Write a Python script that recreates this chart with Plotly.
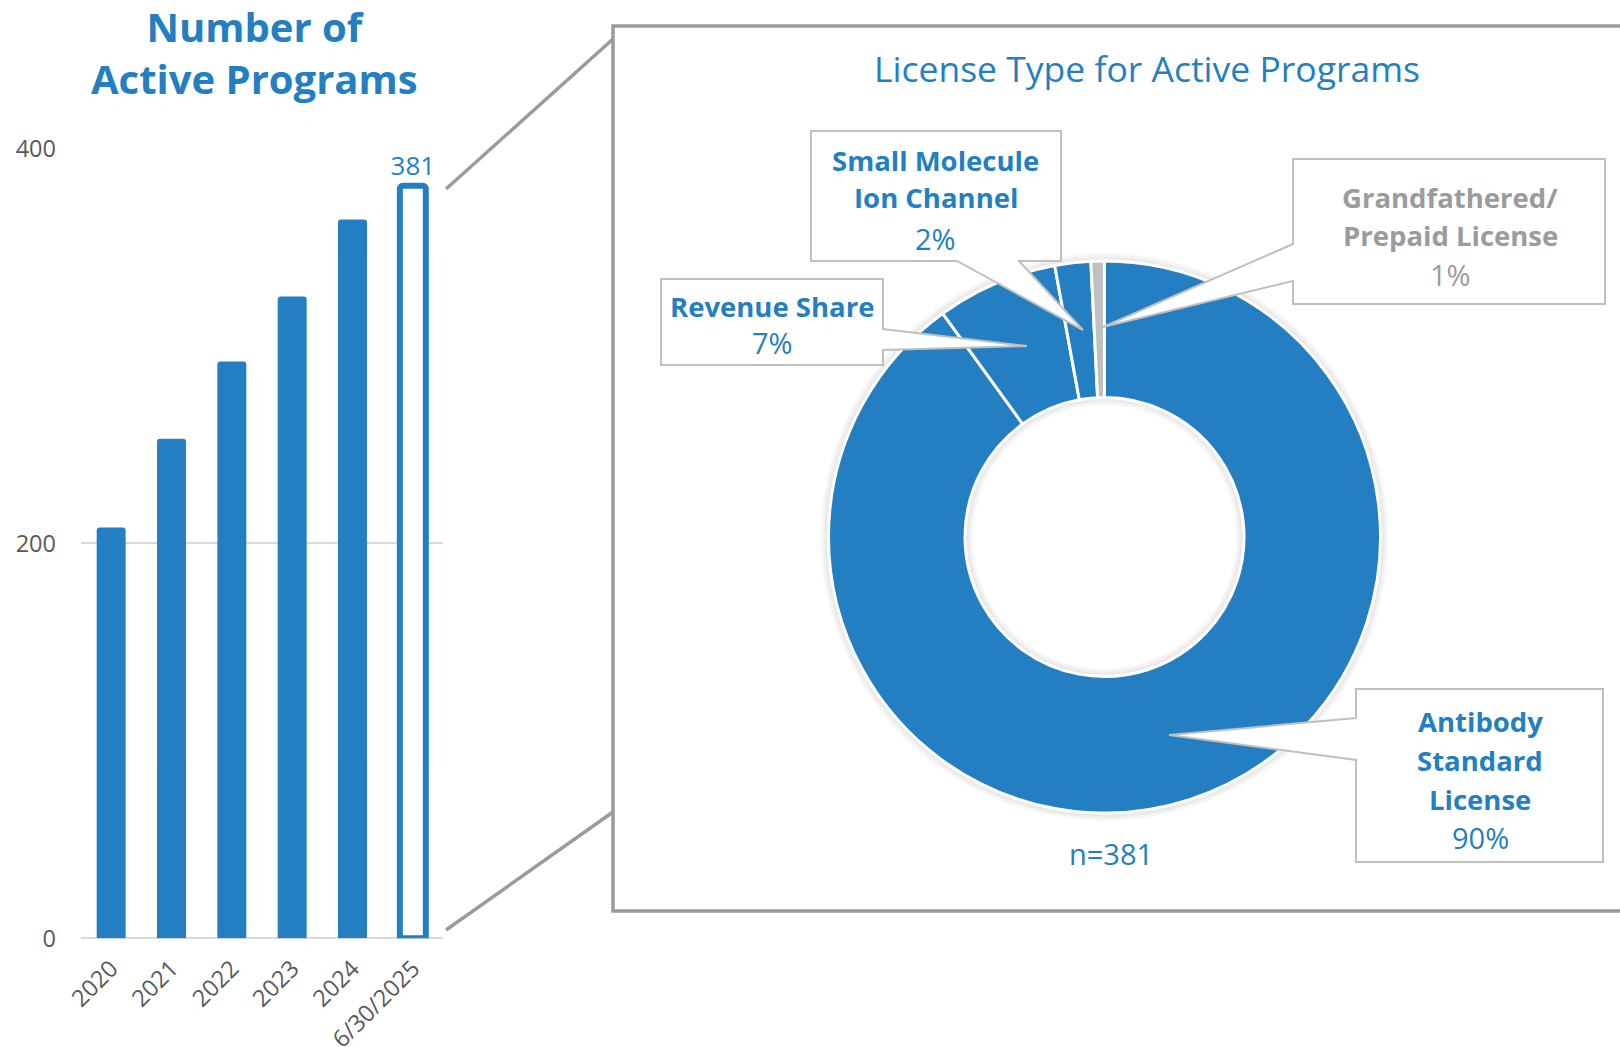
import plotly.graph_objects as go

W, H = 1620, 1047

# ---- data -------------------------------------------------------------
years = ["2020", "2021", "2022", "2023", "2024", "6/30/2025"]
active_programs = [208, 253, 292, 325, 364, 381]

license_types = [
    "Antibody Standard License",
    "Revenue Share",
    "Small Molecule Ion Channel",
    "Grandfathered/Prepaid License",
]
license_counts = [343, 27, 8, 3]
callout_titles = [
    ["Antibody", "Standard", "License"],
    ["Revenue Share"],
    ["Small Molecule", "Ion Channel"],
    ["Grandfathered/", "Prepaid License"],
]

# ---- styling ----------------------------------------------------------
BLUE = "#237fc2"
GREY_SLICE = "#c0c0c0"
GREY_TEXT = "#9a9a9f"
AXIS_TEXT = "#595959"
BOX_LINE = "#c0c0c0"
FRAME = "#9b9b9f"
FONT = "Open Sans"


def px(x):
    return x / W


def py(y):
    return 1 - y / H


fig = go.Figure()

# ---- bar chart: number of active programs -----------------------------
n_bars = len(active_programs)
fig.add_trace(go.Bar(
    x=years,
    y=active_programs,
    width=[0.48] * (n_bars - 1) + [0.43],
    marker=dict(
        color=[BLUE] * (n_bars - 1) + ["white"],
        line=dict(color=BLUE, width=[0] * (n_bars - 1) + [6]),
        cornerradius=3,
    ),
    text=[""] * (n_bars - 1) + [str(active_programs[-1])],
    textposition="outside",
    constraintext="none",
    textfont=dict(family=FONT, size=26, color=BLUE),
    cliponaxis=False,
    showlegend=False,
    hoverinfo="skip",
))

# ---- donut: license type ----------------------------------------------
total = sum(license_counts)
cx, cy, r_out, r_in = 1104.5, 537, 276, 139.5
fig.add_trace(go.Pie(
    labels=license_types,
    values=license_counts,
    sort=False,
    direction="clockwise",
    rotation=0,
    hole=r_in / r_out,
    marker=dict(colors=[BLUE, BLUE, BLUE, GREY_SLICE],
                line=dict(color="white", width=3)),
    textinfo="none",
    hoverinfo="skip",
    showlegend=False,
    domain=dict(x=[px(cx - r_out), px(cx + r_out)],
                y=[py(cy + r_out), py(cy - r_out)]),
))

shapes = []

# soft shadow around the ring and inside the hole
for k in range(1, 8):
    a = 0.07 * (1 - k / 8)
    for r in (r_out + 1 + k, r_in - 1 - k):
        shapes.append(dict(
            type="circle", xref="paper", yref="paper", layer="above",
            x0=px(cx - r), x1=px(cx + r), y0=py(cy + r), y1=py(cy - r),
            line=dict(color=f"rgba(0,0,0,{a:.3f})", width=1.6),
        ))

# zoom frame and connector lines
shapes.append(dict(type="rect", xref="paper", yref="paper", layer="above",
                   x0=px(613), x1=px(1630), y0=py(911), y1=py(26),
                   line=dict(color=FRAME, width=3.5)))
for (x0, y0, x1, y1) in [(446, 189, 613, 39), (446, 930, 613, 812)]:
    shapes.append(dict(type="line", xref="paper", yref="paper", layer="above",
                       x0=px(x0), y0=py(y0), x1=px(x1), y1=py(y1),
                       line=dict(color=FRAME, width=3.5)))

# callout boxes with pointer wedges (outline points in pixels)
callout_outlines = [
    [(1356, 689), (1603, 689), (1603, 862), (1356, 862), (1356, 760),
     (1169, 735), (1356, 718)],
    [(661, 279), (883, 279), (883, 329), (1027, 346), (883, 350),
     (883, 365), (661, 365)],
    [(811, 131), (1061, 131), (1061, 261), (1019, 261), (1083, 330),
     (957, 261), (811, 261)],
    [(1293, 159), (1605, 159), (1605, 304), (1293, 304), (1293, 281),
     (1103, 327), (1293, 244)],
]
for pts in callout_outlines:
    path = "M " + " L ".join(f"{px(x):.5f},{py(y):.5f}" for x, y in pts) + " Z"
    shapes.append(dict(type="path", xref="paper", yref="paper", layer="above",
                       path=path, fillcolor="white",
                       line=dict(color=BOX_LINE, width=2)))

annotations = []


def add_text(x, y, text, size, color, bold=False):
    annotations.append(dict(
        x=px(x), y=py(y), xref="paper", yref="paper",
        text=f"<b>{text}</b>" if bold else text,
        showarrow=False, xanchor="center", yanchor="middle",
        font=dict(family=FONT, size=size, color=color),
    ))


# titles
add_text(254, 52, "Number of<br>Active Programs", 40, BLUE, bold=True)
add_text(1147, 68, "License Type for Active Programs", 35.5, BLUE)

# callout text: title lines then percentage
callout_layout = [
    (1480, [721, 760, 799], 837, BLUE),
    (772, [306], 343, BLUE),
    (936, [160, 197], 238, BLUE),
    (1450, [197, 235], 274, GREY_TEXT),
]
for (x, ys, y_pct, color), lines, count in zip(callout_layout, callout_titles,
                                               license_counts):
    for y, line in zip(ys, lines):
        add_text(x, y, line, 27.5, color, bold=True)
    add_text(x, y_pct, f"{round(count / total * 100)}%", 29, color)

add_text(1111, 853, f"n={total}", 29, BLUE)

fig.update_layout(
    width=W, height=H,
    margin=dict(l=0, r=0, t=0, b=0, autoexpand=False),
    paper_bgcolor="white", plot_bgcolor="white",
    font=dict(family=FONT),
    bargap=0.5,
    shapes=shapes,
    annotations=annotations,
    xaxis=dict(
        domain=[px(81), px(443)],
        range=[-0.5, n_bars - 0.5],
        tickangle=-45,
        tickfont=dict(family=FONT, size=23.5, color=AXIS_TEXT),
        showgrid=False, showline=False, ticks="",
        ticklabelstandoff=11,
        automargin=False,
        fixedrange=True,
    ),
    yaxis=dict(
        domain=[py(938.3), py(148.3)],
        range=[0, 400],
        dtick=200,
        showgrid=True, gridcolor="#d9d9d9", gridwidth=2,
        zeroline=True, zerolinecolor="#d9d9d9", zerolinewidth=2,
        showline=False, ticks="",
        tickfont=dict(family=FONT, size=23.5, color=AXIS_TEXT),
        ticklabelstandoff=24,
        automargin=False,
        fixedrange=True,
    ),
)

fig.write_html("out.html")
